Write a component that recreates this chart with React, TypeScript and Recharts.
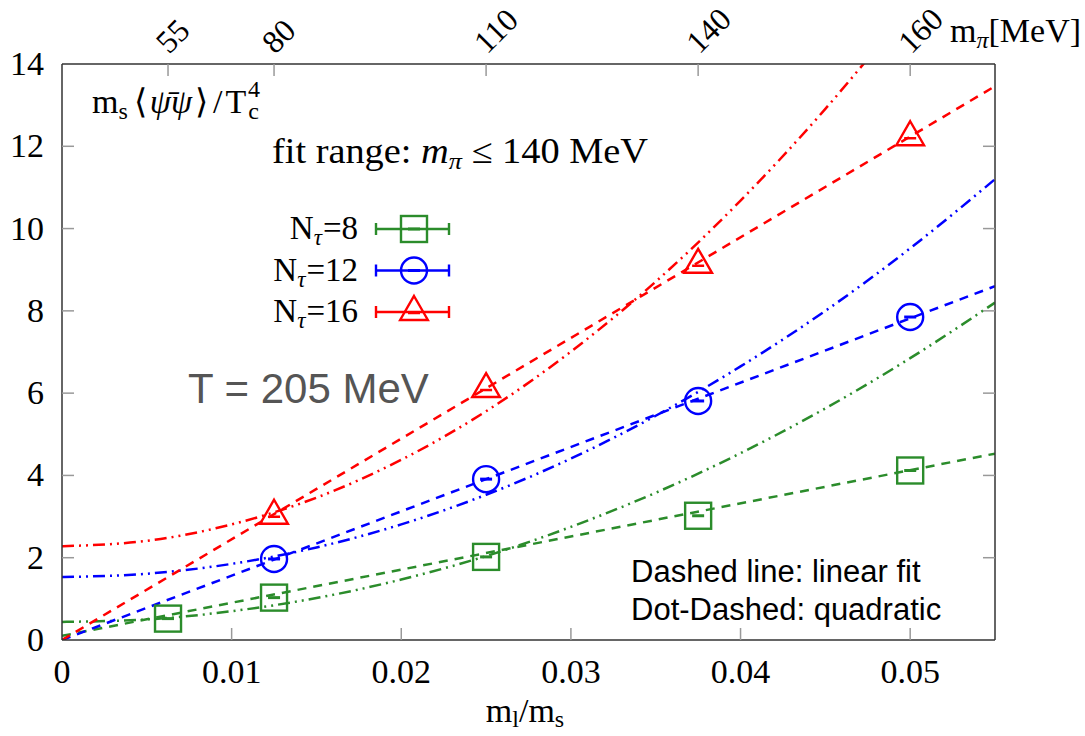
import { ComposedChart, Line, Scatter, XAxis, YAxis, Legend } from "recharts";

// lattice points (m_l/m_s) and chiral condensate values
const massRatio = [0.00625, 0.0125, 0.025, 0.0375, 0.05];
const nt8 = [0.52, 1.03, 2.02, 3.02, 4.12];
const nt12 = [null, 1.97, 3.91, 5.81, 7.85];
const nt16 = [null, 3.02, 6.1, 9.12, 12.22];

// quadratic fits (dot-dashed)
const fitX = [0, 0.005, 0.01, 0.015, 0.02, 0.025, 0.03, 0.035, 0.04, 0.045, 0.05, 0.055];
const quad8 = [0.44, 0.5, 0.7, 1.02, 1.47, 2.04, 2.75, 3.58, 4.54, 5.63, 6.85, 8.2];
const quad12 = [1.53, 1.61, 1.85, 2.25, 2.81, 3.53, 4.41, 5.45, 6.65, 8.0, 9.52, 11.2];
const quad16 = [2.28, 2.41, 2.81, 3.46, 4.38, 5.56, 7.01, 8.71, 10.68, 12.91, 15.41, 18.16];

// linear fits (dashed)
const linX = [0, 0.055];
const lin8 = [0.1, 4.53];
const lin12 = [0, 8.6];
const lin16 = [0, 13.46];

const xTicks = [0, 0.01, 0.02, 0.03, 0.04, 0.05];
const yTicks = [0, 2, 4, 6, 8, 10, 12, 14];
const mpiTicks = [0.00625, 0.0125, 0.025, 0.0375, 0.05];
const mpiLabels = ["55", "80", "110", "140", "160"];

const GREEN = "#2b8c2b";
const BLUE = "#0000ff";
const RED = "#ff0000";
const SERIF = "'Liberation Serif', serif";
const SANS = "'Liberation Sans', Arial, sans-serif";
const FRAME = "#333";
const TICK = "#999";

const DASH = "9 7";
const DOTDASH = "12 5 2 5 2 5";

const toPoints = (xs: number[], ys: (number | null)[]) =>
  xs.map((x, i) => ({ x, y: ys[i] })).filter((p) => p.y !== null);

const Square = ({ cx, cy, color = GREEN }: any) => (
  <g>
    <rect x={cx - 13} y={cy - 13} width={26} height={26} fill="none" stroke={color} strokeWidth={2.4} />
    <line x1={cx - 6} x2={cx + 6} y1={cy} y2={cy} stroke={color} strokeWidth={3} />
  </g>
);

const Circle = ({ cx, cy, color = BLUE }: any) => (
  <g>
    <circle cx={cx} cy={cy} r={13} fill="none" stroke={color} strokeWidth={2.4} />
    <line x1={cx - 6} x2={cx + 6} y1={cy} y2={cy} stroke={color} strokeWidth={3} />
  </g>
);

const Triangle = ({ cx, cy, color = RED }: any) => {
  const r = 16;
  const pts = `${cx},${cy - r} ${cx + r * 0.866},${cy + r / 2} ${cx - r * 0.866},${cy + r / 2}`;
  return (
    <g>
      <polygon points={pts} fill="none" stroke={color} strokeWidth={2.4} />
      <line x1={cx - 6} x2={cx + 6} y1={cy + 1} y2={cy + 1} stroke={color} strokeWidth={2.5} />
    </g>
  );
};

const LeftTick = ({ x, y, payload }: any) => (
  <g>
    {payload.value !== 0 && payload.value !== 14 && (
      <line x1={x} x2={x + 12} y1={y} y2={y} stroke={TICK} strokeWidth={1.5} />
    )}
    <text x={x - 18} y={y + 11} textAnchor="end" fontFamily={SERIF} fontSize={34} fill="#000">
      {payload.value}
    </text>
  </g>
);

const RightTick = ({ x, y, payload }: any) =>
  payload.value !== 0 && payload.value !== 14 ? (
    <line x1={x - 12} x2={x} y1={y} y2={y} stroke={TICK} strokeWidth={1.5} />
  ) : (
    <g />
  );

const BottomTick = ({ x, y, payload }: any) => (
  <g>
    {payload.value !== 0 && <line x1={x} x2={x} y1={y} y2={y - 12} stroke={TICK} strokeWidth={1.5} />}
    <text x={x} y={y + 43} textAnchor="middle" fontFamily={SERIF} fontSize={34} fill="#000">
      {payload.value}
    </text>
  </g>
);

const TopTick = ({ x, y, payload }: any) => {
  const i = mpiTicks.indexOf(payload.value);
  const tx = x + 1;
  const ty = y - 9;
  return (
    <g>
      <line x1={x} x2={x} y1={y} y2={y + 12} stroke={TICK} strokeWidth={1.5} />
      <text x={tx} y={ty} transform={`rotate(-45 ${tx} ${ty})`} fontFamily={SERIF} fontSize={32} fill="#000">
        {mpiLabels[i]}
      </text>
    </g>
  );
};

const legendRows = [
  { n: "8", color: GREEN, Marker: Square },
  { n: "12", color: BLUE, Marker: Circle },
  { n: "16", color: RED, Marker: Triangle },
];

const renderLegend = () => (
  <svg width={220} height={140}>
    {legendRows.map((row, i) => {
      const cy = 29 + i * 41.5;
      return (
        <g key={row.n}>
          <text x={108} y={cy + 10} textAnchor="end" fontFamily={SERIF} fontSize={33} fill="#000">
            <tspan>N</tspan>
            <tspan dy={6} fontSize={23} fontStyle="italic">τ</tspan>
            <tspan dy={-6} dx={1}>={row.n}</tspan>
          </text>
          <line x1={126} x2={199} y1={cy} y2={cy} stroke={row.color} strokeWidth={2.4} />
          <line x1={126} x2={126} y1={cy - 6} y2={cy + 6} stroke={row.color} strokeWidth={2.4} />
          <line x1={199} x2={199} y1={cy - 6} y2={cy + 6} stroke={row.color} strokeWidth={2.4} />
          <row.Marker cx={164} cy={cy} color={row.color} />
        </g>
      );
    })}
  </svg>
);

const axisLine = { stroke: FRAME, strokeWidth: 1.5 };

export default function App() {
  return (
    <div style={{ position: "absolute", left: 0, top: 0, width: 1085, height: 736, background: "#fff" }}>
      <ComposedChart width={1085} height={736} margin={{ top: 0, right: 0, bottom: 0, left: 0 }}>
        <XAxis
          xAxisId="bottom"
          dataKey="x"
          type="number"
          domain={[0, 0.055]}
          ticks={xTicks}
          interval={0}
          allowDataOverflow
          height={96}
          tickSize={0}
          tickMargin={0}
          tickLine={false}
          tick={BottomTick}
          axisLine={axisLine}
        />
        <XAxis
          xAxisId="top"
          orientation="top"
          dataKey="x"
          type="number"
          domain={[0, 0.055]}
          ticks={mpiTicks}
          interval={0}
          allowDataOverflow
          height={64}
          tickSize={0}
          tickMargin={0}
          tickLine={false}
          tick={TopTick}
          axisLine={axisLine}
        />
        <YAxis
          yAxisId="left"
          dataKey="y"
          type="number"
          domain={[0, 14]}
          ticks={yTicks}
          interval={0}
          allowDataOverflow
          width={62}
          tickSize={0}
          tickMargin={0}
          tickLine={false}
          tick={LeftTick}
          axisLine={axisLine}
        />
        <YAxis
          yAxisId="right"
          orientation="right"
          dataKey="y"
          type="number"
          domain={[0, 14]}
          ticks={yTicks}
          interval={0}
          allowDataOverflow
          width={90}
          tickSize={0}
          tickMargin={0}
          tickLine={false}
          tick={RightTick}
          axisLine={axisLine}
        />

        <Line xAxisId="bottom" yAxisId="left" data={toPoints(fitX, quad8)} dataKey="y" type="monotone" stroke={GREEN} strokeWidth={2.5} strokeDasharray={DOTDASH} dot={false} activeDot={false} isAnimationActive={false} />
        <Line xAxisId="bottom" yAxisId="left" data={toPoints(fitX, quad12)} dataKey="y" type="monotone" stroke={BLUE} strokeWidth={2.5} strokeDasharray={DOTDASH} dot={false} activeDot={false} isAnimationActive={false} />
        <Line xAxisId="bottom" yAxisId="left" data={toPoints(fitX, quad16)} dataKey="y" type="monotone" stroke={RED} strokeWidth={2.5} strokeDasharray={DOTDASH} dot={false} activeDot={false} isAnimationActive={false} />
        <Line xAxisId="top" yAxisId="right" data={toPoints(linX, lin8)} dataKey="y" type="linear" stroke={GREEN} strokeWidth={2.5} strokeDasharray={DASH} dot={false} activeDot={false} isAnimationActive={false} />
        <Line xAxisId="top" yAxisId="right" data={toPoints(linX, lin12)} dataKey="y" type="linear" stroke={BLUE} strokeWidth={2.5} strokeDasharray={DASH} dot={false} activeDot={false} isAnimationActive={false} />
        <Line xAxisId="top" yAxisId="right" data={toPoints(linX, lin16)} dataKey="y" type="linear" stroke={RED} strokeWidth={2.5} strokeDasharray={DASH} dot={false} activeDot={false} isAnimationActive={false} />

        <Scatter xAxisId="bottom" yAxisId="left" name="Nt=8" data={toPoints(massRatio, nt8)} shape={Square} isAnimationActive={false} />
        <Scatter xAxisId="bottom" yAxisId="left" name="Nt=12" data={toPoints(massRatio, nt12)} shape={Circle} isAnimationActive={false} />
        <Scatter xAxisId="bottom" yAxisId="left" name="Nt=16" data={toPoints(massRatio, nt16)} shape={Triangle} isAnimationActive={false} />

        <Legend
          layout="horizontal"
          verticalAlign="middle"
          align="center"
          content={renderLegend}
          wrapperStyle={{ left: 250, top: 200, width: 220, height: 140 }}
        />
      </ComposedChart>

      <svg
        width={1085}
        height={736}
        style={{ position: "absolute", left: 0, top: 0, pointerEvents: "none" }}
      >
        <text x={92} y={113} fontFamily={SERIF} fontSize={34} fill="#000">
          <tspan>m</tspan>
          <tspan dy={6} fontSize={24}>s</tspan>
          <tspan dy={-6} dx={6}>⟨</tspan>
          <tspan fontStyle="italic" dx={3}>ψ̄ψ</tspan>
          <tspan dx={3}>⟩</tspan>
          <tspan dx={5}>/</tspan>
          <tspan dx={3}>T</tspan>
          <tspan dy={6} dx={2} fontSize={24}>c</tspan>
          <tspan dx={-11} dy={-22} fontSize={24}>4</tspan>
        </text>
        <text x={272} y={163} fontFamily={SERIF} fontSize={35} fill="#000" textLength={376} lengthAdjust="spacingAndGlyphs">
          <tspan>fit range: </tspan>
          <tspan fontStyle="italic">m</tspan>
          <tspan dy={6} fontSize={24} fontStyle="italic">π</tspan>
          <tspan dy={-6}> ≤ 140 MeV</tspan>
        </text>
        <text x={188} y={403} fontFamily={SANS} fontSize={42} fill="#555">
          T = 205 MeV
        </text>
        <text x={631} y={582} fontFamily={SANS} fontSize={31} fill="#000">
          Dashed line: linear fit
        </text>
        <text x={631} y={620} fontFamily={SANS} fontSize={31} fill="#000">
          Dot-Dashed: quadratic
        </text>
        <text x={950} y={42} fontFamily={SERIF} fontSize={34} fill="#000">
          <tspan>m</tspan>
          <tspan dy={6} fontSize={24} fontStyle="italic">π</tspan>
          <tspan dy={-6}>[MeV]</tspan>
        </text>
        <text x={525} y={722} textAnchor="middle" fontFamily={SERIF} fontSize={34} fill="#000">
          <tspan>m</tspan>
          <tspan dy={5} fontSize={24}>l</tspan>
          <tspan dy={-5}>/m</tspan>
          <tspan dy={5} fontSize={24}>s</tspan>
        </text>
      </svg>
    </div>
  );
}
